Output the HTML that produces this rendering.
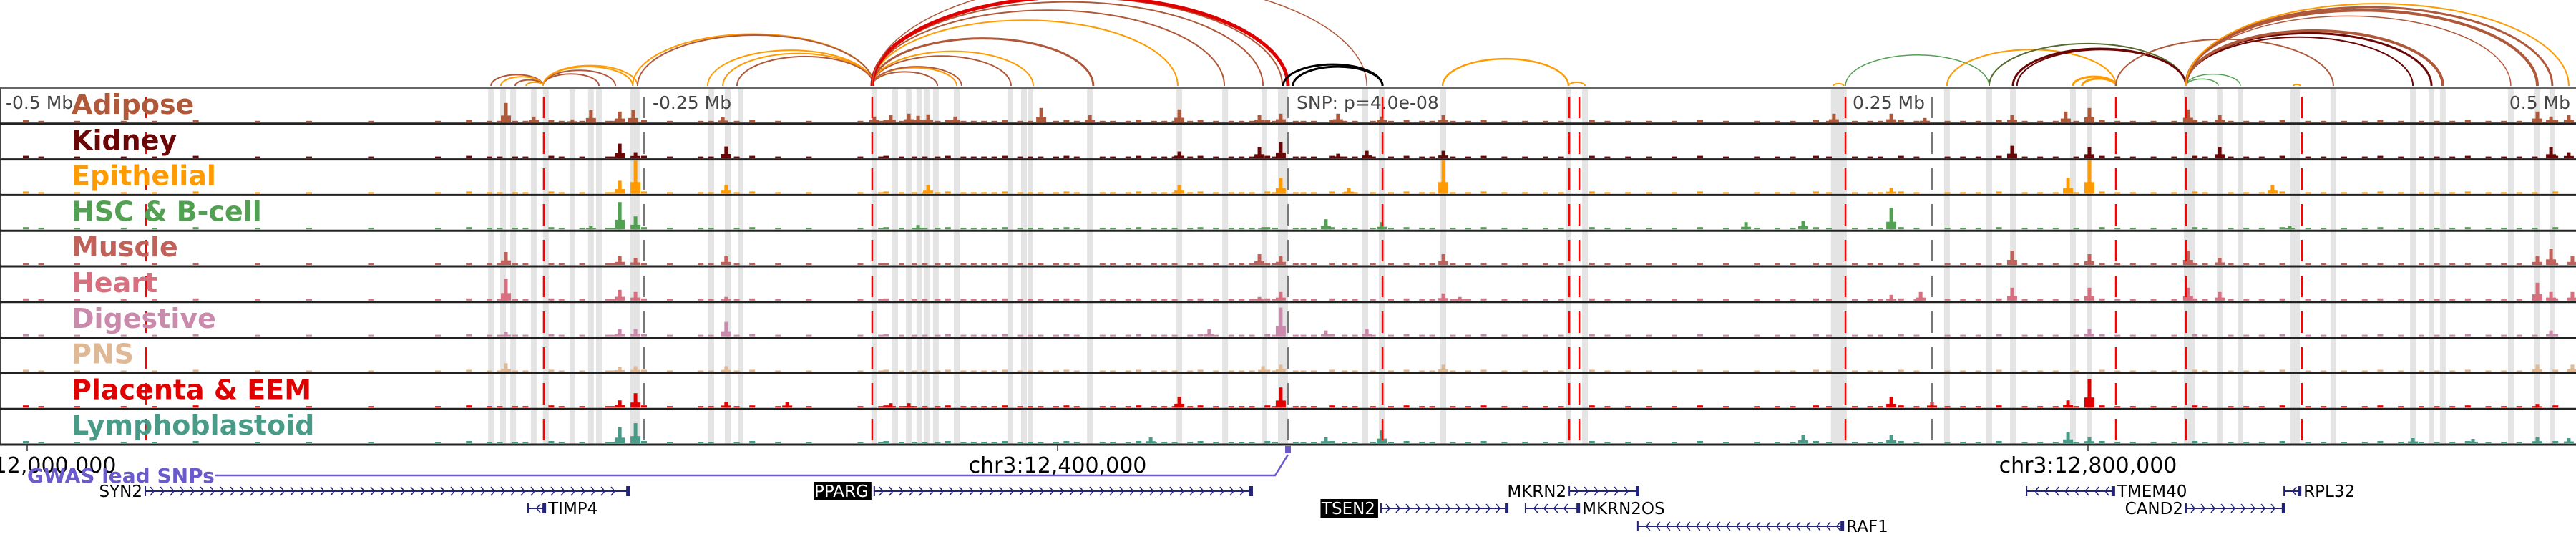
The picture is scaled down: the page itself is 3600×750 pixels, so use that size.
<!DOCTYPE html>
<html><head><meta charset="utf-8"><style>
html,body{margin:0;padding:0;background:#fff;}
svg{display:block;}
text{font-family:"DejaVu Sans","Liberation Sans",sans-serif;}
</style></head><body>
<svg id="chart" xmlns="http://www.w3.org/2000/svg" width="3600" height="750" viewBox="0 0 3600 750">
<g id="arcs"></g>
<g id="bands"></g>
<g id="tracks"></g>
<g id="vlines"></g>
<g id="labels"></g>
<g id="axis"></g>
<g id="genes"></g>
</svg>
<script>
// ---- data (positions in kb relative to lead SNP) ----
const trackNames = ["Adipose","Kidney","Epithelial","HSC & B-cell","Muscle","Heart","Digestive","PNS","Placenta & EEM","Lymphoblastoid"];
const trackColors = ["#b0583a","#6b0606","#ff9a00","#52a052","#c0625a","#d86f7e","#c98aab","#e0b894","#e00000","#4a9a88"];
const adiposePeaks = [[-303.6,27],[-292.8,8],[-277.8,4],[-270.6,17],[-259.4,15],[-254.2,17],[-219.4,7],[-160.6,8],[-154.2,10],[-147.2,12],[-143.6,9],[-139.7,11],[-129.2,8],[-95.8,20],[-76.9,10],[-42.2,18],[-11.1,10],[-2.8,12],[19.4,12],[36.4,8],[60.3,10],[211.9,12],[234.2,12],[247.2,6],[281.1,10],[301.9,15],[311.1,20],[349.4,18],[361.7,10],[485,15],[490.3,8],[497.2,10]];
const kidneyPeaks = [[-259.4,20],[-253.3,8],[-218.1,16],[-42.2,9],[-11.1,15],[-2.8,22],[19.4,6],[30.6,10],[60.3,10],[281.1,17],[311.1,15],[361.7,15],[490.3,15],[497.2,8]];
const epithelialPeaks = [[-259.4,18],[-253.3,46],[-218.1,12],[-139.7,12],[-42.2,12],[-2.8,22],[23.6,8],[60.3,46],[234.2,8],[302.8,22],[311.1,46],[382.2,12]];
const hscPeaks = [[-270.6,5],[-259.4,38],[-253.3,18],[-143.6,6],[-9.7,3],[14.7,14],[36.4,10],[177.8,10],[200,12],[234.2,30],[388.9,5]];
const musclePeaks = [[-303.6,18],[-259.4,12],[-253.3,10],[-218.1,12],[-11.1,15],[-2.8,12],[60.3,15],[281.1,20],[311.1,15],[349.4,20],[361.7,10],[485,12],[490.3,22],[498.6,12]];
const heartPeaks = [[-303.6,30],[-259.4,15],[-253.3,12],[-218.1,5],[-11.1,5],[-2.8,12],[60.3,10],[66.7,5],[234.2,8],[245.6,12],[281.1,18],[311.1,18],[349.4,18],[361.7,12],[485,25],[490.3,12],[498.6,12]];
const digestivePeaks = [[-303.6,6],[-259.4,10],[-253.3,10],[-218.1,20],[-30.6,10],[-2.8,40],[14.7,8],[30.6,10],[311.1,10],[490.3,8]];
const pnsPeaks = [[-303.6,12],[-259.4,7],[-253.3,8],[-218.1,8],[-9.7,8],[-2.8,10],[60.3,10],[485,10],[498.6,10]];
const placentaPeaks = [[-259.4,10],[-253.3,20],[-218.1,8],[-194.4,8],[-154.2,6],[-147.2,6],[-42.2,15],[-2.8,28],[234.2,15],[250,8],[302.8,10],[311.1,40],[485,5]];
const lymphoPeaks = [[-259.4,22],[-253.3,28],[-53.3,8],[14.7,8],[36.4,18],[200,12],[234.2,12],[302.8,15],[311.1,8],[436.7,7],[460,6],[485,8],[497.2,7]];
const allPeaks = [adiposePeaks,kidneyPeaks,epithelialPeaks,hscPeaks,musclePeaks,heartPeaks,digestivePeaks,pnsPeaks,placentaPeaks,lymphoPeaks];
const bgBins = [-490,-484,-470,-452,-440,-424,-400,-380,-356,-330,-318,-310,-306,-300,-296,-286,-282,-274,-264,-262,-250,-240,-228,-224,-214,-208,-198,-186,-166,-158,-156,-150,-145,-141,-136,-132,-126,-122,-118,-114,-110,-104,-100,-96,-90,-86,-82,-72,-68,-62,-58,-52,-48,-44,-38,-34,-28,-22,-18,-14,-8,-5,3,6,10,17,22,26,33,40,46,52,56,64,70,76,84,92,100,106,118,124,132,140,150,160,170,182,190,196,205,210,220,226,230,238,244,256,262,268,276,286,292,298,306,316,322,328,336,344,352,356,366,372,378,386,396,402,410,418,424,432,440,446,452,458,466,472,478,484,492];
const bgLevel = [2,2,2,2,2,2,2,2,2,2];
const bandsKb = [-309.4,-304.7,-300.8,-292.8,-288.1,-277.8,-270.6,-267.5,-254.2,-252.8,-223.9,-217.5,-212.5,-160.6,-152.5,-147.2,-143.1,-140.3,-136.7,-128.6,-107.8,-102.5,-100,-76.9,-42.2,-24.4,-9.2,-2.8,-1.1,30,36.4,60.3,108.9,115.3,211.9,213.9,215.8,255.8,272.2,281.4,304.7,311.1,348.9,351.1,361.7,369.7,390.3,391.7,405.8,436.7,443.9,448.3,474.7,485,490.8];
const redLinesKb = [-443.3,-288.9,-161.4,36.7,109.2,113.1,216.4,321.4,348.6,393.6];
const greyLinesKb = [-250,0,250];
const arcStart = [-309.4,-305.6,-300,-295.8,-289.2,-289.2,-289.2,-289.2,-254.4,-252.5,-225.3,-219.4,-213.9,-161.4,-161.4,-161.4,-161.4,-161.4,-161.4,-161.4,-161.4,-161.4,-161.4,-161.4,-161.4,-161.4,-1.9,1.9,60,108.9,211.7,216.4,255.8,272.2,281.4,283,304.7,308.3,321.4,348.6,348.6,348.6,348.6,348.6,348.6,348.6,348.6,348.6,390.3];
const arcEnd   = [-289.2,-289.2,-289.2,-289.2,-267.5,-261.1,-252.5,-254.4,-160.8,-160.8,-160.8,-160.8,-160.8,-136.1,-128.6,-126.7,-107.5,-98.9,-75.6,-42.8,-24.7,-9.7,-2.2,0,0,30.6,36.7,36.7,108.9,115.3,215.8,272.2,321.4,348.6,348.6,348.6,321.4,321.4,405.8,361.1,369.7,436.7,443.9,448.3,474.7,485,490.8,497.2,393];
const arcColor = ["#b0583a","#ff9a00","#b0583a","#ff9a00","#b0583a","#b0583a","#ff9a00","#ff9a00","#ff9a00","#b0583a","#ff9a00","#ff9a00","#b0583a","#b0583a","#ff9a00","#b0583a","#b0583a","#ff9a00","#b0583a","#ff9a00","#b0583a","#b0583a","#b0583a","#e00000","#e00000","#b0583a","#000","#000","#ff9a00","#ff9a00","#ff9a00","#52a052","#ff9a00","#556b2f","#6b0606","#6b0606","#ff9a00","#ff9a00","#b0583a","#52a052","#52a052","#6b0606","#6b0606","#b0583a","#b0583a","#b0583a","#b0583a","#ff9a00","#ff9a00"];
const arcWidth = [2,2,2,2,2,2,2,2,2,2,2,2,2,2,2,2,2,2,3,2,2,2,2,5,3,1.5,3,3,2.5,2,2,1.5,2,2,3,2,3,3,2,1.5,1.5,2,3,4,1.5,4,3,2,2];
const genes = ["SYN2","TIMP4","PPARG","TSEN2","MKRN2","MKRN2OS","RAF1","TMEM40","CAND2","RPL32"];
const geneStart = [-443.6,-295,-160.6,36.1,109.2,92.2,135.8,286.7,348.6,386.7];
const geneEnd = [-255.8,-288.3,-13.9,85.3,136.1,113.1,215.6,320.8,386.9,393.1];
const geneRow = [0,1,0,1,0,1,2,0,1,0];
const geneStrand = [1,-1,1,1,1,-1,-1,-1,1,-1];
const geneBoxed = [false,false,true,true,false,false,false,false,false,false];
const axisTicksBp = [12000000,12400000,12800000];
const scaleTicksKb = [-500,-250,250,500];
const scaleTickLabels = ["-0.5 Mb","-0.25 Mb","0.25 Mb","0.5 Mb"];
const snpKb = [0];
const snpPosBp = 12489444;

// ---- scales ----
const X = kb => 1800 + kb*3.6;
const Xbp = bp => 1800 + (bp - snpPosBp)/1000*3.6;
const panelTop = 123, trackH = 49.8;
const NS = "http://www.w3.org/2000/svg";
function mk(tag, parent, attrs){const e=document.createElementNS(NS,tag);for(const k in attrs)e.setAttribute(k,attrs[k]);parent.appendChild(e);return e;}

// arcs
const gA = document.getElementById('arcs');
arcStart.forEach((s,i)=>{
  const x1=X(s), x2=X(arcEnd[i]); const rx=(x2-x1)/2, ry=rx*0.43;
  const p=mk('path',gA,{d:`M${x1},120 A${rx},${ry} 0 0 1 ${x2},120`,fill:'none',stroke:arcColor[i],'stroke-width':arcWidth[i]});
  
  
});

// bands
const gB = document.getElementById('bands');
bandsKb.forEach(k=>{
  const r=mk('rect',gB,{x:X(k)-4,y:panelTop+2,width:8,height:trackH*10-2,fill:'#e4e4e4'});
  
  
});

mk('line',gB,{x1:0,y1:panelTop,x2:3600,y2:panelTop,stroke:'#666','stroke-width':2});
mk('line',gB,{x1:1,y1:panelTop,x2:1,y2:panelTop+trackH*10,stroke:'#444','stroke-width':2});

// tracks
const gT = document.getElementById('tracks');
trackNames.forEach((name,i)=>{
  const top=panelTop+i*trackH, base=top+trackH-2;
  const g=mk('g',gT,{});
  
  
  bgBins.forEach((k,j)=>{
    const h=bgLevel[i]+(j%5===0?1:0);
    mk('rect',g,{x:X(k)-4,y:base-h,width:8,height:h,fill:trackColors[i]});
  });
  allPeaks[i].forEach(([k,h])=>{
    const b=mk('rect',g,{x:X(k)-2.5,y:base-h,width:5,height:h,fill:trackColors[i]});
    
    
    mk('rect',g,{x:X(k)-7,y:base-h*0.35,width:14,height:h*0.35,fill:trackColors[i]});
  });
  const l=mk('line',g,{x1:0,y1:top+trackH,x2:3600,y2:top+trackH,stroke:'#222','stroke-width':3});
  
  
});

// vertical marker lines
const gV = document.getElementById('vlines');
redLinesKb.forEach(k=>{
  const l=mk('line',gV,{x1:X(k),y1:panelTop,x2:X(k),y2:panelTop+trackH*10,stroke:'#ff0000','stroke-width':2.5,'stroke-dasharray':'30 20','stroke-dashoffset':'-12'});
  
  
});
greyLinesKb.forEach(k=>{
  const l=mk('line',gV,{x1:X(k),y1:panelTop,x2:X(k),y2:panelTop+trackH*10,stroke:'#777','stroke-width':2.5,'stroke-dasharray':'30 20','stroke-dashoffset':'-12'});
  
  
});

// labels
const gL = document.getElementById('labels');
trackNames.forEach((name,i)=>{
  const t=mk('text',gL,{x:100,y:panelTop+i*trackH+36,'font-size':38,'font-weight':'bold',fill:trackColors[i]});
  t.textContent=name;
  
  
});
scaleTicksKb.forEach((k,i)=>{
  let x, anchor;
  if(i===0){x=8;anchor='start';}
  else if(k<0){x=X(k)+12;anchor='start';}
  else if(i===3){x=3592;anchor='end';}
  else {x=X(k)-10;anchor='end';}
  const t=mk('text',gL,{x:x,y:152,'font-size':25,fill:'#444','text-anchor':anchor});
  t.textContent=scaleTickLabels[i];
  
  
});
const snpT=mk('text',gL,{x:1812,y:152,'font-size':25,fill:'#444'});
snpT.textContent='SNP: p=4.0e-08';



// axis
const gX = document.getElementById('axis');
axisTicksBp.forEach(bp=>{
  const x=Xbp(bp);
  mk('line',gX,{x1:x,y1:622,x2:x,y2:630,stroke:'#333','stroke-width':1.5});
  const t=mk('text',gX,{x:x,y:660,'font-size':30,'text-anchor':'middle',fill:'#000'});
  t.textContent='chr3:'+bp.toLocaleString('en-US');
  
  
});
const gw=mk('text',gX,{x:38,y:674,'font-size':28,'font-weight':'bold',fill:'#6a5acd'});
gw.textContent='GWAS lead SNPs';


snpKb.forEach(k=>{
  const x=X(k);
  const pl=mk('polyline',gX,{points:`300,664 ${x-18},664 ${x},635`,fill:'none',stroke:'#6a5acd','stroke-width':2.5});
  
  
  const r=mk('rect',gX,{x:x-4,y:623,width:8,height:10,fill:'#6a5acd'});
  
  
});

// genes
const gG = document.getElementById('genes');
const rowY=[686,710,735];
genes.forEach((name,i)=>{
  const g=mk('g',gG,{});
  
  
  const x1=X(geneStart[i]), x2=X(geneEnd[i]), y=rowY[geneRow[i]], col='#23237a';
  mk('line',g,{x1:x1,y1:y,x2:x2,y2:y,stroke:col,'stroke-width':2});
  mk('line',g,{x1:x1,y1:y-7,x2:x1,y2:y+7,stroke:col,'stroke-width':2});
  mk('rect',g,{x:x2-4,y:y-7,width:5,height:14,fill:col});
  for(let x=x1+12;x<x2-8;x+=14){
    const d=geneStrand[i]*5;
    mk('polyline',g,{points:`${x-d},${y-6} ${x},${y} ${x-d},${y+6}`,fill:'none',stroke:col,'stroke-width':1.5});
  }
  const left = geneStrand[i]>0;
  const lx = left? x1-4 : x2+4;
  const anchor = left?'end':'start';
  if(geneBoxed[i]){
    const w=name.length*14.5+8;
    mk('rect',g,{x:lx-w,y:y-13,width:w,height:26,fill:'#000'});
  }
  const t=mk('text',g,{x:geneBoxed[i]?lx-4:lx,y:y+8,'font-size':23,'text-anchor':anchor,fill:geneBoxed[i]?'#fff':'#000'});
  t.textContent=name;
  
  
});
</script>
</body></html>
